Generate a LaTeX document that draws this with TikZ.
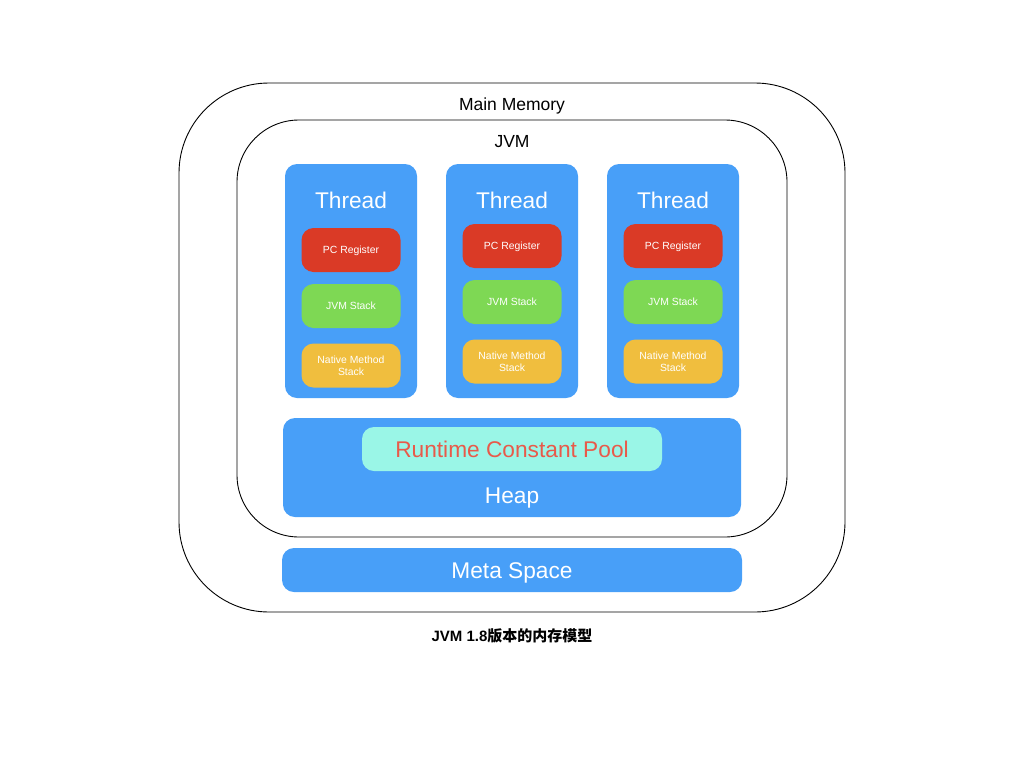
\documentclass[tikz,border=0pt]{standalone}
\usepackage{fontspec}
\setmainfont{Liberation Sans}
\newfontfamily\cjkfont{Noto Sans CJK SC}
\definecolor{areablue}{RGB}{72,159,248}
\definecolor{pcred}{RGB}{218,58,38}
\definecolor{stackgreen}{RGB}{126,216,84}
\definecolor{nativeyellow}{RGB}{240,190,62}
\definecolor{poolaqua}{RGB}{154,246,231}
\definecolor{pooltext}{RGB}{232,90,74}

\begin{document}
\begin{tikzpicture} [
            x=1pt,
            y=-1pt,
            frame/.style = {draw=black,line width=0.9pt,inner sep=0pt},
            area/.style = {fill=areablue,rounded corners=12pt,inner sep=0pt},
            thread/.style = {area,minimum width=132pt,minimum height=234pt},
            part/.style = {rounded corners=12pt,inner sep=0pt,minimum width=99pt,minimum height=44pt,
                text=white,font=\fontsize{10.4}{12}\selectfont,align=center},
            pc box/.style = {part,fill=pcred,text height=7.5pt,text depth=0pt},
            stack box/.style = {part,fill=stackgreen,text height=7.5pt,text depth=0pt},
            native box/.style = {part,fill=nativeyellow},
            title/.style = {text=white,font=\fontsize{22.7}{26}\selectfont,text height=16pt,text depth=0pt},
            caption/.style = {font=\fontsize{17.5}{20}\selectfont,text height=12.6pt,text depth=0pt}
        ]
        \useasboundingbox (0,0) rectangle (1024,768);
        % Main memory and JVM frames
        \node[frame,rounded corners=90pt,minimum width=666pt,minimum height=529pt] (memory) at (512,347.5) {};
        \node[caption] (memory-title) at (512,104) {Main Memory};
        \node[frame,rounded corners=62pt,minimum width=550pt,minimum height=417pt] (jvm) at (512,328.5) {};
        \node[caption] (jvm-title) at (512,141) {JVM};
        % Threads with their own areas
        \foreach \name/\x/\dy in {ta/351/4, tb/512/0, tc/673/0} {
            \node[thread] (\name) at (\x,281) {};
            \node[title] (\name-title) at (\x,200) {Thread};
            \node[pc box] (\name-pc) at (\x,246+\dy) {PC Register};
            \node[stack box] (\name-stack) at (\x,302+\dy) {JVM Stack};
            \node[native box] (\name-native) at (\x,361.5+\dy) {Native Method\\Stack};
        }
        % Shared areas
        \node[area,minimum width=458pt,minimum height=99pt] (heap) at (512,467.5) {};
        \node[rounded corners=12pt,fill=poolaqua,inner sep=0pt,minimum width=300pt,minimum height=44pt,
            title,text=pooltext] (pool) at (512,449) {Runtime Constant Pool};
        \node[title] (heap-title) at (512,495) {Heap};
        \node[area,minimum width=460pt,minimum height=44pt,title] (meta) at (512,570) {Meta Space};
        % Caption
        \node[font=\fontsize{15}{18}\selectfont\bfseries] (caption) at (512,636) {JVM 1.8{\cjkfont\bfseries 版本的内存模型}};
    \end{tikzpicture}
\end{document}
